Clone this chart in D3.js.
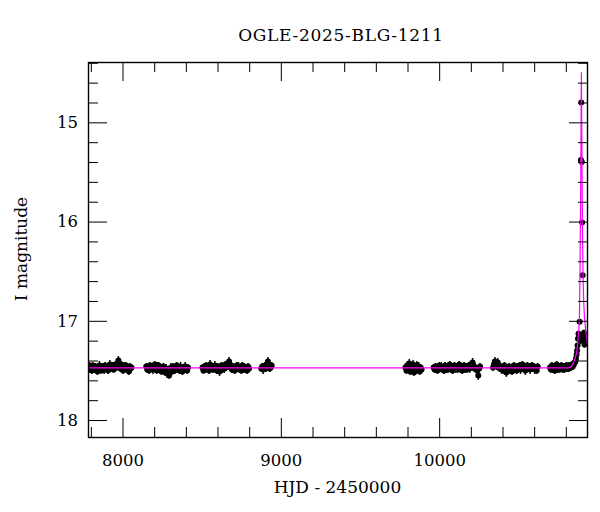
<!DOCTYPE html>
<html>
<head>
<meta charset="utf-8">
<script src="https://cdn.jsdelivr.net/npm/d3@7"></script>
<style>
  body { margin: 0; background: #fff; }
  svg { display: block; }
  text { font-family: "DejaVu Serif", serif; fill: #000; }
</style>
</head>
<body>
<svg id="chart" width="600" height="512"></svg>
<script>
// ---------------- DATA ----------------
const titleText = "OGLE-2025-BLG-1211";
const xLabel = "HJD - 2450000";
const yLabel = "I magnitude";

const xMajorTicks = [8000, 9000, 10000];
const xMinorTicks = [7800, 8200, 8400, 8600, 8800, 9200, 9400, 9600, 9800, 10200, 10400, 10600, 10800];
const yMajorTicks = [15, 16, 17, 18];
const yMinorTicks = [14.4, 14.6, 14.8, 15.2, 15.4, 15.6, 15.8, 16.2, 16.4, 16.6, 16.8, 17.2, 17.4, 17.6, 17.8];

// [HJD-2450000, I mag, error]
const season2017 = [
[7782,17.47,.035],[7788,17.49,.035],[7794,17.46,.045],[7800,17.48,.035],[7806,17.50,.035],[7812,17.45,.035],
[7818,17.47,.045],[7824,17.49,.035],[7830,17.46,.035],[7836,17.48,.035],[7842,17.51,.035],[7848,17.47,.035],
[7854,17.45,.045],[7860,17.48,.035],[7866,17.50,.035],[7872,17.46,.035],[7878,17.47,.035],[7884,17.49,.045],
[7890,17.45,.035],[7896,17.48,.035],[7902,17.47,.035],[7908,17.50,.035],[7914,17.46,.035],[7920,17.44,.045],
[7926,17.48,.035],[7932,17.47,.035],[7938,17.45,.035],[7944,17.49,.035],[7950,17.46,.045],[7956,17.44,.035],
[7962,17.47,.035],[7968,17.43,.045],[7974,17.40,.045],[7980,17.45,.035],[7986,17.48,.035],[7992,17.44,.035],
[7998,17.47,.035],[8004,17.50,.035],[8010,17.46,.045],[8016,17.48,.035],[8022,17.45,.035],[8028,17.49,.035],
[8034,17.47,.035],[8040,17.51,.035],[8046,17.46,.035],[8052,17.48,.045],[8056,17.47,.035]];
const season2018 = [
[8150,17.46,.035],[8156,17.49,.035],[8162,17.47,.045],[8168,17.50,.035],[8174,17.45,.035],[8180,17.48,.035],
[8186,17.46,.035],[8192,17.49,.045],[8198,17.47,.035],[8204,17.44,.035],[8210,17.48,.035],[8216,17.50,.035],
[8222,17.46,.045],[8228,17.45,.035],[8234,17.48,.035],[8240,17.47,.035],[8246,17.51,.035],[8252,17.49,.045],
[8258,17.46,.035],[8264,17.50,.035],[8270,17.52,.035],[8276,17.48,.045],[8282,17.53,.045],[8288,17.50,.035],
[8294,17.55,.035],[8300,17.49,.035],[8306,17.47,.045],[8312,17.51,.035],[8318,17.46,.035],[8324,17.48,.035],
[8330,17.50,.035],[8336,17.47,.045],[8342,17.45,.035],[8348,17.49,.035],[8354,17.47,.035],[8360,17.50,.035],
[8366,17.46,.045],[8372,17.48,.035],[8378,17.51,.035],[8384,17.47,.035],[8390,17.49,.035],[8396,17.46,.045],
[8402,17.48,.035],[8408,17.50,.035],[8414,17.47,.035]];
const season2019 = [
[8505,17.47,.035],[8511,17.50,.035],[8517,17.46,.035],[8523,17.48,.045],[8529,17.45,.035],[8535,17.49,.035],
[8541,17.47,.035],[8547,17.50,.035],[8553,17.44,.045],[8559,17.48,.035],[8565,17.46,.035],[8571,17.49,.035],
[8577,17.47,.035],[8583,17.45,.045],[8589,17.48,.035],[8595,17.50,.035],[8601,17.46,.035],[8607,17.48,.035],
[8613,17.51,.045],[8619,17.47,.035],[8625,17.45,.035],[8631,17.49,.035],[8637,17.46,.035],[8643,17.48,.045],
[8649,17.44,.035],[8655,17.47,.035],[8661,17.45,.035],[8667,17.43,.045],[8673,17.41,.045],[8679,17.44,.035],
[8685,17.47,.035],[8691,17.49,.035],[8697,17.46,.035],[8703,17.48,.045],[8709,17.50,.035],[8715,17.47,.035],
[8721,17.45,.035],[8727,17.48,.035],[8733,17.46,.045],[8739,17.49,.035],[8745,17.47,.035],[8751,17.50,.035],
[8757,17.45,.035],[8763,17.48,.045],[8769,17.46,.035],[8775,17.49,.035],[8781,17.47,.035],[8787,17.50,.035],
[8793,17.46,.035],[8799,17.48,.035]];
const season2019b = [
[8876,17.48,.035],[8882,17.46,.035],[8888,17.49,.045],[8894,17.47,.035],[8900,17.45,.035],[8906,17.48,.035],
[8912,17.44,.035],[8918,17.41,.045],[8924,17.46,.035],[8930,17.48,.035],[8936,17.47,.035],[8942,17.45,.035]];
const season2022 = [
[9787,17.47,.045],[9793,17.50,.035],[9799,17.45,.045],[9805,17.48,.035],[9811,17.43,.045],[9817,17.51,.035],
[9823,17.46,.045],[9829,17.49,.035],[9835,17.44,.045],[9841,17.52,.035],[9847,17.47,.045],[9853,17.50,.035],
[9859,17.45,.045],[9865,17.48,.035],[9871,17.46,.045],[9877,17.51,.035],[9883,17.47,.035],[9889,17.49,.035]];
const season2023 = [
[9965,17.47,.035],[9971,17.49,.035],[9977,17.46,.035],[9983,17.48,.045],[9989,17.50,.035],[9995,17.47,.035],
[10001,17.45,.035],[10007,17.48,.035],[10013,17.46,.045],[10019,17.49,.035],[10025,17.47,.035],[10031,17.50,.035],
[10037,17.45,.035],[10043,17.48,.045],[10049,17.46,.035],[10055,17.49,.035],[10061,17.47,.035],[10067,17.44,.035],
[10073,17.48,.045],[10079,17.46,.035],[10085,17.50,.035],[10091,17.47,.035],[10097,17.45,.035],[10103,17.48,.045],
[10109,17.46,.035],[10115,17.49,.035],[10121,17.47,.035],[10127,17.44,.035],[10133,17.48,.045],[10139,17.46,.035],
[10145,17.50,.035],[10151,17.47,.035],[10157,17.45,.035],[10163,17.48,.045],[10169,17.46,.035],[10175,17.49,.035],
[10181,17.47,.035],[10187,17.45,.035],[10193,17.48,.045],[10199,17.44,.035],[10205,17.46,.035],[10211,17.42,.045],
[10217,17.45,.035],[10223,17.48,.035],[10229,17.47,.035],[10235,17.49,.035],[10241,17.50,.035],[10247,17.55,.045],
[10253,17.48,.035],[10258,17.46,.035]];
const season2024 = [
[10340,17.47,.035],[10346,17.44,.035],[10352,17.41,.045],[10358,17.43,.035],[10364,17.46,.035],[10370,17.42,.045],
[10376,17.45,.035],[10382,17.48,.035],[10388,17.46,.035],[10394,17.49,.045],[10400,17.47,.035],[10406,17.50,.035],
[10412,17.45,.035],[10418,17.48,.035],[10424,17.52,.045],[10430,17.47,.035],[10436,17.49,.035],[10442,17.46,.035],
[10448,17.50,.035],[10454,17.48,.045],[10460,17.51,.035],[10466,17.47,.035],[10472,17.45,.035],[10478,17.49,.035],
[10484,17.47,.045],[10490,17.50,.035],[10496,17.46,.035],[10502,17.48,.035],[10508,17.45,.035],[10514,17.49,.045],
[10520,17.47,.035],[10526,17.44,.035],[10532,17.48,.035],[10538,17.46,.035],[10544,17.50,.045],[10550,17.47,.035],
[10556,17.45,.035],[10562,17.48,.035],[10568,17.46,.035],[10574,17.49,.045],[10580,17.47,.035],[10586,17.45,.035],
[10592,17.48,.035],[10598,17.46,.035],[10604,17.49,.045],[10610,17.47,.035],[10616,17.50,.035],[10622,17.46,.035]];
const season2025 = [
[10700,17.47,.035],[10706,17.49,.035],[10712,17.45,.035],[10718,17.48,.045],[10724,17.46,.035],[10730,17.50,.035],
[10736,17.47,.035],[10742,17.44,.035],[10748,17.48,.045],[10754,17.46,.035],[10760,17.49,.035],[10766,17.47,.035],
[10772,17.45,.035],[10778,17.48,.045],[10784,17.46,.035],[10790,17.49,.035],[10796,17.47,.035],[10802,17.45,.035],
[10808,17.48,.035],[10814,17.46,.045],[10820,17.48,.035],[10826,17.45,.035],[10832,17.47,.035],[10838,17.44,.035],
[10844,17.46,.035],[10850,17.44,.035],[10856,17.42,.035],[10860,17.41,.035],[10864,17.38,.03],[10868,17.34,.03],
[10871,17.30,.03],[10874,17.25,.03],[10877,17.18,.03],[10880,17.13,.03],[10887,17.01,.02],
[10895.5,15.38,.01],[10897.5,14.80,.01],[10901,15.40,.01],[10903,16.01,.01],[10906,16.54,.015],
[10890,17.16,.03],[10893,17.20,.03],[10910,17.15,.03],[10912,17.19,.03],[10915,17.12,.03],[10918,17.24,.03],
[10921,17.16,.03],[10924,17.20,.03],[10926,17.14,.03],[10929,17.18,.03]];

// model light curve
const modelCurve = [
[7780,17.475],[10815,17.475],[10835,17.46],[10848,17.42],[10860,17.37],[10870,17.30],[10880,17.13],
[10886,16.96],[10890,16.45],[10893,15.85],[10896,15.10],[10898,14.50],[10900,14.95],[10903,15.60],
[10906,16.20],[10909,16.55],[10913,16.80],[10920,17.00],[10930,17.15],[10940,17.28]];

const allPoints = [].concat(season2017, season2018, season2019, season2019b,
                            season2022, season2023, season2024, season2025);

// ---------------- LAYOUT ----------------
const svg = d3.select("#chart");
const L = 88, R = 588, T = 62, B = 437;

const x = d3.scaleLinear().domain([7782, 10940]).range([L, R]);
const y = d3.scaleLinear().domain([14.392, 18.171]).range([T, B]);

svg.append("defs").append("clipPath").attr("id", "clip")
  .append("rect").attr("x", L).attr("y", T).attr("width", R - L).attr("height", B - T);

const plot = svg.append("g").attr("clip-path", "url(#clip)");

// error bars
plot.append("g").selectAll("line").data(allPoints).join("line")
  .attr("x1", d => x(d[0])).attr("x2", d => x(d[0]))
  .attr("y1", d => y(d[1] - d[2])).attr("y2", d => y(d[1] + d[2]))
  .attr("stroke", "#000").attr("stroke-width", 1.5);

// points
plot.append("g").selectAll("circle").data(allPoints).join("circle")
  .attr("cx", d => x(d[0])).attr("cy", d => y(d[1])).attr("r", 3)
  .attr("fill", "#000");

// model
plot.append("path").datum(modelCurve)
  .attr("d", d3.line().x(d => x(d[0])).y(d => y(d[1])).curve(d3.curveMonotoneX))
  .attr("fill", "none").attr("stroke", "#ff00ff").attr("stroke-width", 1.2);

// ---------------- AXES (ticks inward on all four sides) ----------------
function styleAxis(g) {
  g.select(".domain").remove();
  g.selectAll(".tick line").attr("stroke", "#000").attr("stroke-width", 1);
  g.selectAll("text").style("font-family", "'DejaVu Serif', serif").style("font-size", "16.5px").attr("fill", "#000");
}
// bottom
svg.append("g").attr("transform", `translate(0,${B})`)
  .call(d3.axisBottom(x).tickValues(xMajorTicks).tickSize(-19).tickPadding(17).tickFormat(d3.format("d")))
  .call(styleAxis);
svg.append("g").attr("transform", `translate(0,${B})`)
  .call(d3.axisBottom(x).tickValues(xMinorTicks).tickSize(-10).tickFormat(""))
  .call(styleAxis);
// top
svg.append("g").attr("transform", `translate(0,${T})`)
  .call(d3.axisTop(x).tickValues(xMajorTicks).tickSize(-19).tickFormat(""))
  .call(styleAxis);
svg.append("g").attr("transform", `translate(0,${T})`)
  .call(d3.axisTop(x).tickValues(xMinorTicks).tickSize(-10).tickFormat(""))
  .call(styleAxis);
// left
svg.append("g").attr("transform", `translate(${L},0)`)
  .call(d3.axisLeft(y).tickValues(yMajorTicks).tickSize(-19).tickPadding(10).tickFormat(d3.format("d")))
  .call(styleAxis);
svg.append("g").attr("transform", `translate(${L},0)`)
  .call(d3.axisLeft(y).tickValues(yMinorTicks).tickSize(-10).tickFormat(""))
  .call(styleAxis);
// right
svg.append("g").attr("transform", `translate(${R},0)`)
  .call(d3.axisRight(y).tickValues(yMajorTicks).tickSize(-19).tickFormat(""))
  .call(styleAxis);
svg.append("g").attr("transform", `translate(${R},0)`)
  .call(d3.axisRight(y).tickValues(yMinorTicks).tickSize(-10).tickFormat(""))
  .call(styleAxis);

// frame
svg.append("rect").attr("x", L + 0.5).attr("y", T + 0.5)
  .attr("width", R - L - 1).attr("height", B - T)
  .attr("fill", "none").attr("stroke", "#000").attr("stroke-width", 1.4);

// ---------------- TEXT ----------------
svg.append("text").attr("x", 341).attr("y", 40.5).attr("text-anchor", "middle")
  .style("font-size", "17px").style("letter-spacing", "0.7px").text(titleText);
svg.append("text").attr("x", 337.5).attr("y", 492.5).attr("text-anchor", "middle")
  .style("font-size", "17px").text(xLabel);
svg.append("text").attr("transform", "translate(27,249) rotate(-90)").attr("text-anchor", "middle")
  .style("font-size", "17px").text(yLabel);
</script>
</body>
</html>
